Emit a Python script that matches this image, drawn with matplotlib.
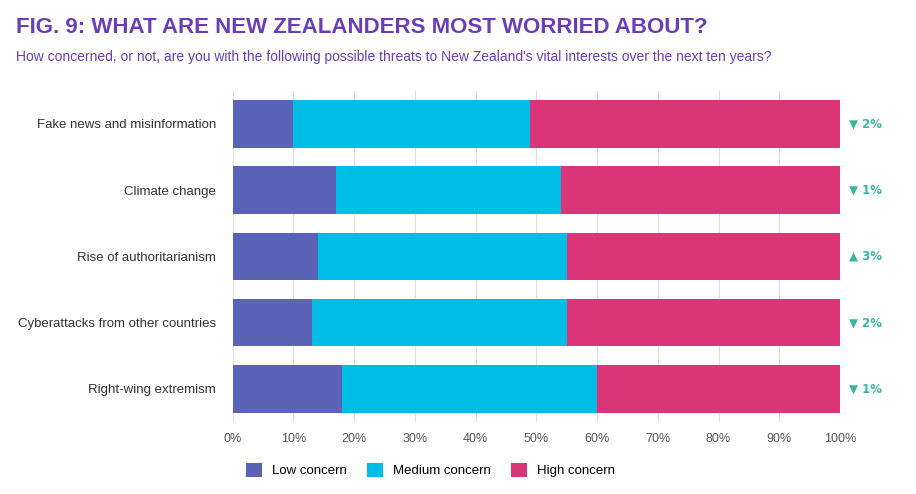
import matplotlib.pyplot as plt
import numpy as np

plt.rcParams['font.family'] = ['Liberation Sans', 'DejaVu Sans']

categories = ["Fake news and misinformation", "Climate change", "Rise of authoritarianism",
              "Cyberattacks from other countries", "Right-wing extremism"]
low = [10, 17, 14, 13, 18]
medium = [39, 37, 41, 42, 42]
high = [51, 46, 45, 45, 40]
changes = ["▼ 2%", "▼ 1%", "▲ 3%", "▼ 2%", "▼ 1%"]

fig = plt.figure(figsize=(9.16, 4.94), dpi=100)
ax = fig.add_axes([0.254, 0.146, 0.663, 0.670])
y = np.arange(len(categories))
l = np.array(low); m = np.array(medium); h = np.array(high)
ax.barh(y, l, height=0.72, color="#5B63B7", label="Low concern")
ax.barh(y, m, left=l, height=0.72, color="#00BDE6", label="Medium concern")
ax.barh(y, h, left=l + m, height=0.72, color="#DB3579", label="High concern")
ax.set_ylim(4.5, -0.5)
ax.set_xlim(0, 100)
ax.set_yticks(y)
ax.set_yticklabels(categories, fontsize=9.5, color="#333333")
ax.set_xticks(range(0, 101, 10))
ax.set_xticklabels([f"{v}%" for v in range(0, 101, 10)], fontsize=9, color="#555555")
ax.tick_params(length=0, pad=12)
ax.tick_params(axis="x", pad=8)
for s in ax.spines.values():
    s.set_visible(False)
ax.grid(axis="x", color="#dddddd", linewidth=0.8)
ax.set_axisbelow(True)
for i, c in enumerate(changes):
    ax.text(101.5, i, c, va="center", ha="left", fontsize=8.5, color="#3AB5A5", fontweight="bold",
            family=["DejaVu Sans"])
fig.text(0.018, 0.945, "FIG. 9: WHAT ARE NEW ZEALANDERS MOST WORRIED ABOUT?", fontsize=16,
         fontweight="bold", color="#6A3FB5", va="center")
fig.text(0.018, 0.885, "How concerned, or not, are you with the following possible threats to New Zealand's vital interests over the next ten years?",
         fontsize=10, color="#6A3FB5", va="center")
fig.legend(loc="center", bbox_to_anchor=(0.47, 0.048), ncol=3, frameon=False, fontsize=9.5,
           handlelength=1.2, handleheight=1.2, columnspacing=1.5)
fig.savefig("out.png", dpi=100)
